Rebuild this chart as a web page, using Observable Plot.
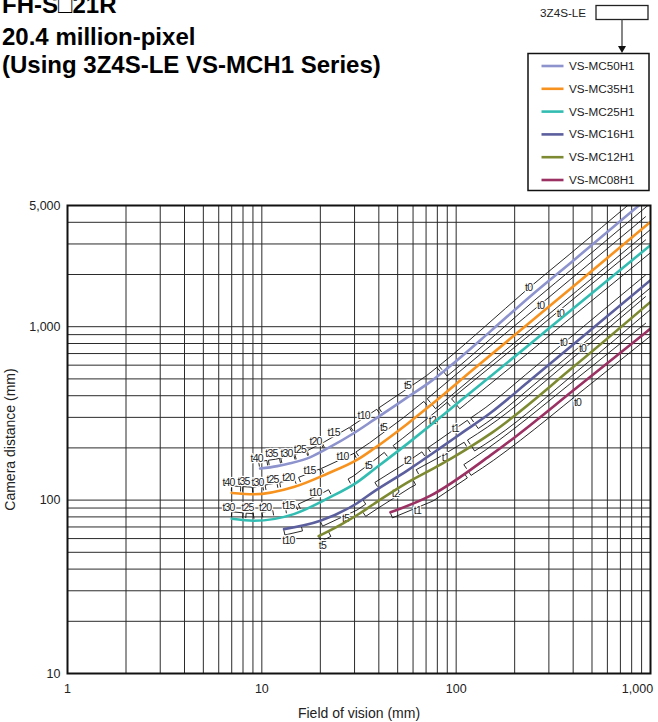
<!DOCTYPE html>
<html><head><meta charset="utf-8">
<script src="https://cdn.jsdelivr.net/npm/d3@7"></script>
<script src="https://cdn.jsdelivr.net/npm/@observablehq/plot@0.6"></script>
<style>
body{margin:0;background:#fff;font-family:"Liberation Sans",Arial,sans-serif;}
#wrap{position:relative;width:658px;height:722px;overflow:hidden;background:#fff;}
#wrap svg{position:absolute;left:0;top:0;}
</style></head><body><div id="wrap"></div>
<script>
// ---------- data ----------
const titleLines = ["FH-S\u25a121R", "20.4 million-pixel", "(Using 3Z4S-LE VS-MCH1 Series)"];
const adapterLabel = "3Z4S-LE";
const lensNames = ["VS-MC50H1","VS-MC35H1","VS-MC25H1","VS-MC16H1","VS-MC12H1","VS-MC08H1"];
const lensColors = ["#8d93cd","#f7921e","#33bdb2","#5c5f9d","#7e8a32","#9b3163"];

// curves: field of vision (mm) -> camera distance (mm)
const fov50 = [9.8, 12, 14, 17.8, 22, 29.7, 37.7, 56, 73.8, 90, 150, 241, 403, 871];
const dist50 = [152, 157, 163, 177, 200, 243, 290, 391, 482, 575, 940, 1500, 2420, 5000];
const fov35 = [7.0, 9.1, 14.6, 21.7, 31, 37.7, 56, 73.8, 121, 241, 403, 1000];
const dist35 = [110, 108, 119, 142, 171, 198, 275, 352, 560, 1064, 1718, 4018];
const fov25 = [7.0, 9.1, 14.6, 21.7, 31, 37.7, 56, 73.8, 109.5, 241, 403, 1000];
const dist25 = [78, 76, 83, 102, 127, 150, 211, 270, 388, 798, 1283, 2951];
const fov16 = [13, 20, 30, 37.7, 56, 83, 107.5, 150, 241, 403, 1000];
const dist16 = [68, 76, 94, 112, 148, 200, 245, 318, 492, 795, 1853];
const fov12 = [19.6, 25.4, 32, 37.7, 56, 83, 116, 153, 403, 1000];
const dist12 = [62, 72, 84, 95, 126, 160, 200, 245, 589, 1390];
const fov08 = [45.9, 73.8, 150, 206, 403, 1000];
const dist08 = [85, 106, 181, 236, 431, 975];

// extension-tube ranges (t = tube thickness) and label positions
const tubes50 = ["t40","t35","t30","t25","t20","t15","t10","t5","t0"];
const from50 = [9.8, 11, 12.8, 15.2, 17.6, 21.3, 30, 42, 86];
const to50 = [10.8, 12.6, 15, 17.4, 21, 29.5, 41, 84, 1000];
const lblFov50 = [9.4, 11.2, 13.4, 15.7, 18.9, 23.4, 33.4, 56.2, 236];
const lblDist50 = [174, 186, 186, 195, 218, 246, 308, 459, 1687];

const tubes35 = ["t40","t35","t30","t25","t20","t15","t10","t5","t0"];
const from35 = [7.0, 8, 9.1, 10.6, 12.6, 16, 21, 32, 75];
const to35 = [7.8, 9, 10.3, 12.2, 15.2, 20.5, 31, 72, 1000];
const lblFov35 = [6.74, 8.05, 9.5, 11.35, 13.7, 17.6, 26.0, 42.3, 272];
const lblDist35 = [126, 128, 126, 132, 135, 147, 179, 263, 1327];

const tubes25 = ["t30","t25","t20","t15","t10","t5","t2","t0"];
const from25 = [7.0, 8.3, 10.2, 13.5, 16, 29, 50, 100];
const to25 = [8.0, 9.2, 11.6, 15.5, 23, 45, 95, 1000];
const lblFov25 = [6.74, 8.44, 10.4, 13.7, 18.9, 35.4, 75.5, 344];
const lblDist25 = [90.8, 90.8, 90.8, 93, 111, 158, 288, 1194];

const tubes16 = ["t10","t5","t2","t1","t0"];
const from16 = [13, 20, 40, 75, 125];
const to16 = [16, 33, 70, 120, 1000];
const lblFov16 = [13.7, 27, 56.2, 99, 357];
const lblDist16 = [58.5, 78.3, 169, 259, 813];

const tubes12 = ["t5","t2","t1","t0"];
const from12 = [19.6, 33, 65, 120];
const to12 = [22, 60, 115, 1000];
const lblFov12 = [20.5, 48.7, 88, 447];
const lblDist12 = [54.8, 109, 176, 750];

const tubes08 = ["t1","t0"];
const from08 = [45.9, 115];
const to08 = [110, 1000];
const lblFov08 = [63.2, 421];
const lblDist08 = [87.2, 367];

// axes
const xTicks = [1, 10, 100, 1000];
const xTickLabels = ["1", "10", "100", "1,000"];
const yTicks = [10, 100, 1000, 5000];
const yTickLabels = ["10", "100", "1,000", "5,000"];
const xTitle = "Field of vision (mm)";
const yTitle = "Camera distance (mm)";

// ---------- build tables ----------
const fovs = [fov50, fov35, fov25, fov16, fov12, fov08];
const dists = [dist50, dist35, dist25, dist16, dist12, dist08];
const tubes = [tubes50, tubes35, tubes25, tubes16, tubes12, tubes08];
const froms = [from50, from35, from25, from16, from12, from08];
const tos = [to50, to35, to25, to16, to12, to08];
const lblFovs = [lblFov50, lblFov35, lblFov25, lblFov16, lblFov12, lblFov08];
const lblDists = [lblDist50, lblDist35, lblDist25, lblDist16, lblDist12, lblDist08];

const curveRows = lensNames.flatMap((name, i) => fovs[i].map((f, j) => ({lens: name, fov: f, dist: dists[i][j]})));
const bracketRows = lensNames.flatMap((name, i) => tubes[i].map((t, j) => ({
  li: i, t, from: froms[i][j], to: tos[i][j], lf: lblFovs[i][j], ld: lblDists[i][j]
})));

const gridX = [];
for (const p of [1, 10, 100]) for (let k = 1; k <= 9; k++) gridX.push(k * p);
gridX.push(1000);
const gridY = [];
for (const p of [10, 100]) for (let k = 1; k <= 9; k++) gridY.push(k * p);
for (let k = 1; k <= 5; k++) gridY.push(k * 1000);

// log-log position along a drawn curve (used only to place bracket geometry)
function distAt(fv, ds, f) {
  const lf = Math.log(f);
  let k = 0;
  while (k < fv.length - 2 && f > fv[k + 1]) k++;
  const t = (lf - Math.log(fv[k])) / (Math.log(fv[k + 1]) - Math.log(fv[k]));
  return Math.exp(Math.log(ds[k]) + t * (Math.log(ds[k + 1]) - Math.log(ds[k])));
}

function brackets(index, scales, values, dimensions) {
  const {x, y} = scales;
  const {width, height, marginLeft, marginRight, marginTop, marginBottom} = dimensions;
  const g = d3.create("svg:g");
  g.append("clipPath").attr("id", "brClip").append("rect")
    .attr("x", marginLeft).attr("y", marginTop)
    .attr("width", width - marginLeft - marginRight).attr("height", height - marginTop - marginBottom);
  const inner = g.append("g").attr("clip-path", "url(#brClip)")
    .attr("fill", "none").attr("stroke", "#111").attr("stroke-width", 0.9).attr("stroke-linejoin", "round");
  const OFF = 6.5, CAP = 1.5;
  for (const b of bracketRows) {
    const fv = fovs[b.li], ds = dists[b.li];
    const a = Math.max(b.from, fv[0]);
    const fs = [a, ...fv.filter(f => f > a && f < b.to), b.to];
    const pts = fs.map(f => [x(f), y(distAt(fv, ds, f))]);
    const n = pts.length;
    const nor = pts.map((p, i) => {
      const p0 = pts[Math.max(i - 1, 0)], p1 = pts[Math.min(i + 1, n - 1)];
      let tx = p1[0] - p0[0], ty = p1[1] - p0[1];
      const L = Math.hypot(tx, ty) || 1; tx /= L; ty /= L;
      return [ty, -tx];
    });
    const off = (i, o) => [pts[i][0] + nor[i][0] * o, pts[i][1] + nor[i][1] * o];
    const side = b.ld > distAt(fv, ds, b.lf) ? 1 : -1;
    const line = d3.line().curve(d3.curveMonotoneX);
    if (b.t === "t0") {
      for (const s of [1, -1]) {
        const path = [off(0, s * CAP), ...pts.map((_, i) => off(i, s * OFF))];
        inner.append("path").attr("d", d3.line()(path.slice(0, 2)) + line(path.slice(1)).replace(/^M/, "L"));
      }
    } else {
      const path = [off(0, side * CAP), ...pts.map((_, i) => off(i, side * OFF)), off(n - 1, side * CAP)];
      inner.append("path").attr("d", d3.line()(path));
    }
  }
  return g.node();
}

const labelRows = bracketRows.map(b => ({t: b.t, fov: b.lf, dist: b.ld}));

const plot = Plot.plot({
  width: 658, height: 722,
  marginTop: 205, marginBottom: 49, marginLeft: 67, marginRight: 8,
  style: {fontFamily: "'Liberation Sans', Arial, sans-serif", background: "white", color: "#222"},
  x: {type: "log", domain: [1, 1000], label: null},
  y: {type: "log", domain: [10, 5000], label: null},
  color: {domain: lensNames, range: lensColors},
  marks: [
    Plot.ruleX(gridX, {x: d => d, stroke: "#2b2b2b", strokeWidth: 1}),
    Plot.ruleY(gridY, {y: d => d, stroke: "#2b2b2b", strokeWidth: 1}),
    brackets,
    Plot.text(labelRows, {x: "fov", y: "dist", text: "t", fontSize: 10.5, fill: "#222",
      stroke: "white", strokeWidth: 2.5, paintOrder: "stroke"}),
    Plot.line(curveRows, {x: "fov", y: "dist", z: "lens", stroke: "lens", strokeWidth: 2.6, curve: "monotone-x", clip: true}),
    Plot.frame({stroke: "#111", strokeWidth: 2}),
    Plot.axisX(xTicks.slice(0, 3), {tickSize: 0, tickPadding: 11, fontSize: 12.5, label: null,
      tickFormat: d => xTickLabels[xTicks.indexOf(d)]}),
    Plot.axisX(xTicks.slice(3), {tickSize: 0, tickPadding: 11, fontSize: 12.5, label: null, dx: -13,
      tickFormat: d => xTickLabels[xTicks.indexOf(d)]}),
    Plot.axisY(yTicks, {tickSize: 0, tickPadding: 7, fontSize: 12.5, label: null,
      tickFormat: d => yTickLabels[yTicks.indexOf(d)]}),
    Plot.text([xTitle], {text: d => d, frameAnchor: "bottom", dy: 40, lineAnchor: "middle", textAnchor: "middle", fontSize: 14}),
    Plot.text([yTitle], {text: d => d, frameAnchor: "left", dx: -57, rotate: -90, lineAnchor: "middle", textAnchor: "middle", fontSize: 14})
  ]
});
// condense the small tube labels like the reference's narrow lettering
d3.select(plot).selectAll("text").filter(function () { return /^t\d+$/.test(this.textContent); })
  .style("letter-spacing", "-0.8px");
const wrap = document.getElementById("wrap");
wrap.appendChild(plot);

// ---------- title + legend overlay ----------
const ov = d3.create("svg").attr("width", 658).attr("height", 200)
  .style("font-family", "'Liberation Sans', Arial, sans-serif");
const titleBase = [13, 45, 73];
titleLines.forEach((t, i) => ov.append("text").attr("x", 2).attr("y", titleBase[i])
  .attr("font-size", 24).attr("font-weight", "bold").attr("fill", "#000").text(t));

ov.append("text").attr("x", 540).attr("y", 17).attr("font-size", 11.7).attr("fill", "#222").text(adapterLabel);
ov.append("rect").attr("x", 596).attr("y", 5.5).attr("width", 52).attr("height", 14)
  .attr("fill", "white").attr("stroke", "#222").attr("stroke-width", 1.3);
ov.append("line").attr("x1", 622).attr("x2", 622).attr("y1", 19.5).attr("y2", 47)
  .attr("stroke", "#444").attr("stroke-width", 1.3);
ov.append("path").attr("d", "M618,46L626,46L622,53Z").attr("fill", "#111");
ov.append("rect").attr("x", 528).attr("y", 53.5).attr("width", 121).attr("height", 137)
  .attr("fill", "white").attr("stroke", "#111").attr("stroke-width", 1.5);
lensNames.forEach((name, i) => {
  const yy = 66 + i * 22.8;
  ov.append("line").attr("x1", 541.5).attr("x2", 563.5).attr("y1", yy).attr("y2", yy)
    .attr("stroke", lensColors[i]).attr("stroke-width", 2.6);
  ov.append("text").attr("x", 569).attr("y", yy).attr("dy", "0.35em")
    .attr("font-size", 11.7).attr("fill", "#222").text(name);
});
wrap.appendChild(ov.node());
</script>
</body></html>
